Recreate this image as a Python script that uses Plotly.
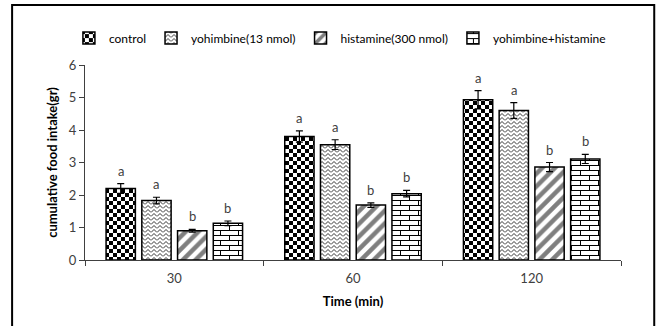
import plotly.graph_objects as go

# Cumulative food intake by time point and treatment
times = ["30", "60", "120"]
series_names = ["control", "yohimbine(13 nmol)", "histamine(300 nmol)", "yohimbine+histamine"]
control = [2.20, 3.80, 4.93]
yohimbine = [1.83, 3.55, 4.60]
histamine = [0.90, 1.69, 2.86]
yoh_hist = [1.13, 2.04, 3.11]
control_err = [0.15, 0.17, 0.28]
yohimbine_err = [0.10, 0.15, 0.24]
histamine_err = [0.04, 0.07, 0.14]
yoh_hist_err = [0.07, 0.10, 0.14]
group_letters = ["a", "a", "b", "b"]

values = [control, yohimbine, histamine, yoh_hist]
errors = [control_err, yohimbine_err, histamine_err, yoh_hist_err]

FONT = "Lato"
BARGAP = 0.2
# fallback plotly patterns; textures are refined by the post script below
patterns = [
    dict(shape="+", fgcolor="black", bgcolor="white", size=8, solidity=0.5),
    dict(shape="-", fgcolor="black", bgcolor="white", size=4, solidity=0.2),
    dict(shape="/", fgcolor="black", bgcolor="white", size=9, solidity=0.5),
    dict(shape="+", fgcolor="black", bgcolor="white", size=9, solidity=0.12),
]

fig = go.Figure()
for name, vals, errs, pat in zip(series_names, values, errors, patterns):
    fig.add_trace(go.Bar(
        name=name, x=times, y=vals,
        marker=dict(color="white", line=dict(color="black", width=1.5), pattern=pat),
        error_y=dict(type="data", array=errs, visible=True, color="black",
                     thickness=1.2, width=3.5),
    ))

# significance letters above each error bar
n = len(series_names)
slot = (1 - BARGAP) / n
for j, (vals, errs) in enumerate(zip(values, errors)):
    for i, (v, e) in enumerate(zip(vals, errs)):
        fig.add_annotation(
            x=i + (j - (n - 1) / 2) * slot, y=v + e, xref="x", yref="y",
            text=group_letters[j], showarrow=False, yanchor="bottom", yshift=3,
            font=dict(family=FONT, size=13, color="#404040"),
        )

# outer frame
fig.add_shape(type="rect", xref="paper", yref="paper",
              x0=-0.136, x1=1.062, y0=-0.45, y1=1.308,
              line=dict(color="black", width=2), fillcolor="rgba(0,0,0,0)")

fig.update_layout(
    width=657, height=326,
    margin=dict(l=85, r=36, t=65, b=66),
    paper_bgcolor="white", plot_bgcolor="white",
    barmode="group", bargap=BARGAP, bargroupgap=0.18,
    font=dict(family=FONT, size=12, color="#404040"),
    showlegend=True,
    legend=dict(orientation="h", x=-0.03, xanchor="left", y=1.138, yanchor="middle",
                font=dict(family=FONT, size=12, color="black"), itemwidth=30,
                tracegroupgap=0, bgcolor="rgba(0,0,0,0)"),
    xaxis=dict(
        type="category", showline=True, linecolor="#404040", linewidth=1.2,
        ticks="outside", tickson="boundaries", ticklen=5, tickcolor="#404040",
        ticklabelstandoff=6,
        tickfont=dict(family=FONT, size=13, color="#404040"),
        title=dict(text="<b>Time (min)</b>", standoff=12,
                   font=dict(family=FONT, size=13, color="black")),
        showgrid=False,
    ),
    yaxis=dict(
        range=[0, 6], dtick=1, showline=True, linecolor="#404040", linewidth=1.2,
        ticks="outside", ticklen=5, tickcolor="#404040", showgrid=False, zeroline=False,
        tickfont=dict(family=FONT, size=13, color="#404040"),
        title=dict(text="<b>cumulative food intake(gr)</b>", standoff=8,
                   font=dict(family=FONT, size=13, color="black")),
    ),
)

# SVG textures (checkerboard, zigzag, brick) applied after the plot renders
post_js = """
var gd = document.getElementById('{plot_id}');
var svg = gd.querySelector('svg.main-svg');
var defs = svg.querySelector('defs');
var NS = 'http://www.w3.org/2000/svg';
function mk(tag, attrs, parent) {
  var e = document.createElementNS(NS, tag);
  for (var k in attrs) e.setAttribute(k, attrs[k]);
  if (parent) parent.appendChild(e);
  return e;
}
function pat(id, w, h) {
  var p = mk('pattern', {id: id, patternUnits: 'userSpaceOnUse', width: w, height: h}, defs);
  mk('rect', {x: 0, y: 0, width: w, height: h, fill: '#fff'}, p);
  return p;
}
var pc = pat('tex-checker', 8, 8);
mk('rect', {x: 0, y: 0, width: 4, height: 4, fill: '#000'}, pc);
mk('rect', {x: 4, y: 4, width: 4, height: 4, fill: '#000'}, pc);
var pz = pat('tex-zigzag', 6, 4);
mk('path', {d: 'M0,3.5L3,0.5L6,3.5', fill: 'none', stroke: '#000', 'stroke-width': 0.8}, pz);
var pb = pat('tex-brick', 18, 10);
mk('path', {d: 'M0,0.5H18M0,5.5H18M0.5,0.5V5.5M9.5,5.5V10', fill: 'none', stroke: '#000', 'stroke-width': 1}, pb);
var tex = {0: 'tex-checker', 1: 'tex-zigzag', 3: 'tex-brick'};
var bars = gd.querySelectorAll('.barlayer .trace');
bars.forEach(function (t, k) {
  if (!(k in tex)) return;
  t.querySelectorAll('.point path').forEach(function (p) {
    p.style.setProperty('fill', 'url(#' + tex[k] + ')');
  });
});
var items = gd.querySelectorAll('.legend .traces');
items.forEach(function (t, k) {
  if (!(k in tex)) return;
  t.querySelectorAll('.legendpoints path').forEach(function (p) {
    p.style.setProperty('fill', 'url(#' + tex[k] + ')');
  });
});
"""

fig.write_html("out.html", post_script=post_js)
